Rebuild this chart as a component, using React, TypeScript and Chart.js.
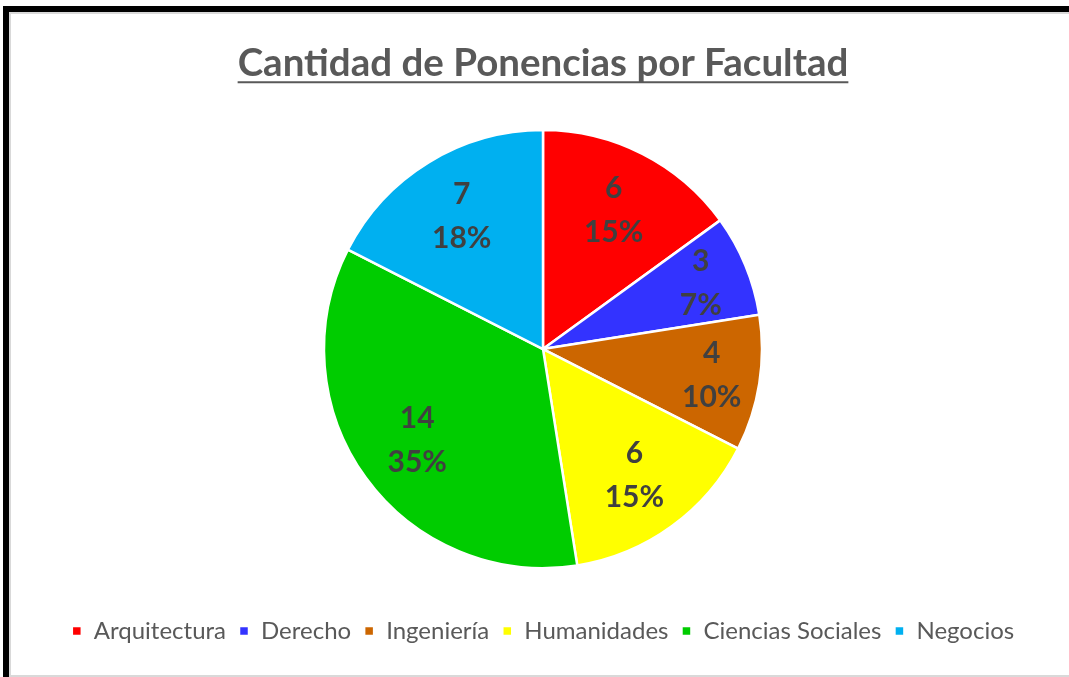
import React, { useEffect, useRef } from "react";
import { Chart, registerables } from "chart.js";

Chart.register(...registerables);

const TITLE = "Cantidad de Ponencias por Facultad";
const categories = ["Arquitectura", "Derecho", "Ingeniería", "Humanidades", "Ciencias Sociales", "Negocios"];
const values = [6, 3, 4, 6, 14, 7];
const percentLabels = ["15%", "7%", "10%", "15%", "35%", "18%"];
const colors = ["#FF0000", "#3333FF", "#CC6600", "#FFFF00", "#00CC00", "#00B0F0"];

const TITLE_FONT = { family: "Lato, 'Open Sans', sans-serif", size: 38.5, weight: "bold" as const };
const TEXT_GRAY = "#595959";
const LABEL_GRAY = "#404040";

const underlinePlugin = {
  id: "titleUnderline",
  afterDraw(chart: any) {
    const tb = chart.titleBlock;
    if (!tb) return;
    const ctx = chart.ctx;
    ctx.save();
    ctx.font = `bold ${TITLE_FONT.size}px ${TITLE_FONT.family}`;
    const w = ctx.measureText(TITLE).width;
    const cx = (tb.left + tb.right) / 2;
    const lh = TITLE_FONT.size * 1.2;
    const mid = tb.top + tb.options.padding.top + lh / 2;
    const y = mid + TITLE_FONT.size * 0.5;
    ctx.strokeStyle = TEXT_GRAY;
    ctx.lineWidth = 2;
    ctx.beginPath();
    ctx.moveTo(cx - w / 2, y);
    ctx.lineTo(cx + w / 2, y);
    ctx.stroke();
    ctx.restore();
  },
};

const labelPlugin = {
  id: "sliceLabels",
  afterDatasetsDraw(chart: any) {
    const ctx = chart.ctx;
    const meta = chart.getDatasetMeta(0);
    const total = values.reduce((a, b) => a + b, 0);
    ctx.save();
    ctx.fillStyle = LABEL_GRAY;
    ctx.font = "bold 30px Lato, 'Open Sans', sans-serif";
    ctx.textAlign = "center";
    ctx.textBaseline = "middle";
    meta.data.forEach((arc: any, i: number) => {
      const p = arc.getProps(["x", "y", "startAngle", "endAngle", "outerRadius"], true);
      const a = (p.startAngle + p.endAngle) / 2;
      const frac = values[i] / total;
      const k = frac < 0.12 ? 0.78 : 0.71;
      const r = p.outerRadius * k;
      const x = p.x + Math.cos(a) * r;
      const y = p.y + Math.sin(a) * r;
      ctx.fillText(String(values[i]), x, y - 22);
      ctx.fillText(percentLabels[i], x, y + 22);
    });
    ctx.restore();
  },
};

export default function App() {
  const ref = useRef<HTMLCanvasElement | null>(null);
  useEffect(() => {
    if (!ref.current) return;
    const chart = new Chart(ref.current, {
      type: "pie",
      data: {
        labels: categories,
        datasets: [
          {
            data: values,
            backgroundColor: colors,
            borderColor: "#FFFFFF",
            borderWidth: 2.5,
          },
        ],
      },
      options: {
        responsive: false,
        animation: false,
        radius: 219,
        layout: { padding: { top: 0, bottom: 24, left: 17, right: 0 } },
        plugins: {
          title: {
            display: true,
            text: TITLE,
            color: TEXT_GRAY,
            font: TITLE_FONT,
            padding: { top: 40, bottom: 6 },
          },
          legend: {
            position: "bottom",
            labels: {
              color: TEXT_GRAY,
              font: { family: "Lato, 'Open Sans', sans-serif", size: 24 },
              boxWidth: 10,
              boxHeight: 10,
              padding: 13,
            },
          },
          tooltip: { enabled: false },
        },
      } as any,
      plugins: [underlinePlugin, labelPlugin],
    });
    return () => chart.destroy();
  }, []);

  return (
    <div style={{ position: "fixed", left: 0, top: 0, width: 1069, height: 677, background: "#fff", overflow: "hidden" }}>
      <canvas ref={ref} width={1069} height={677} style={{ position: "absolute", left: 0, top: 0 }} />
      <div style={{ position: "absolute", left: 3, top: 6, width: 6, height: 671, background: "#000" }} />
      <div style={{ position: "absolute", left: 3, top: 6, width: 1066, height: 6, background: "#000" }} />
      <div style={{ position: "absolute", left: 9, top: 12, width: 2, height: 665, background: "#d9d9d9" }} />
      <div style={{ position: "absolute", left: 9, top: 12, width: 1060, height: 2, background: "#d9d9d9" }} />
      <div style={{ position: "absolute", left: 9, top: 675, width: 1060, height: 2, background: "#d9d9d9" }} />
    </div>
  );
}
